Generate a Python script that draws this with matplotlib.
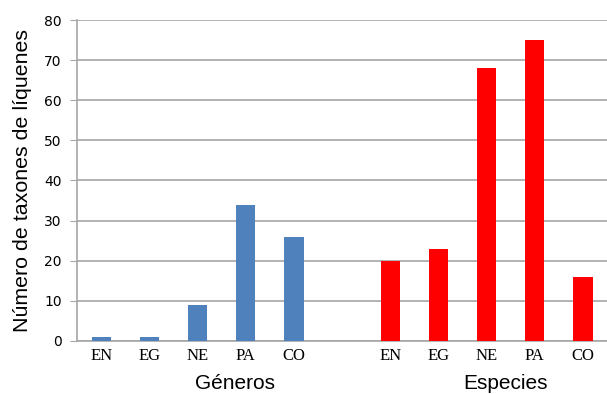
import matplotlib
matplotlib.use("Agg")
import matplotlib.pyplot as plt
import numpy as np

categorias = ['EN', 'EG', 'NE', 'PA', 'CO']
generos = [1, 1, 9, 34, 26]
especies = [20, 23, 68, 75, 16]
grupos = ['Géneros', 'Especies']

fig = plt.figure(figsize=(6.07, 3.94), dpi=100)
ax = fig.add_axes([0.127, 0.135, 0.873, 0.814])

x_gen = np.arange(len(categorias))
x_esp = x_gen + len(categorias) + 1
ax.bar(x_gen, generos, width=0.4, color='#4F81BD', zorder=3)
ax.bar(x_esp, especies, width=0.4, color='#FF0000', zorder=3)

ax.set_xlim(-0.5, x_esp[-1] + 0.5)
ax.set_ylim(0, 80)
ax.set_yticks(np.arange(0, 81, 10))
ax.yaxis.grid(True, color='#a6a6a6', linewidth=1.2, zorder=0)
ax.tick_params(axis='y', labelsize=10, length=5, color='#a6a6a6', pad=6)

ax.set_xticks(np.concatenate([x_gen, x_esp]))
ax.set_xticklabels(categorias * 2, fontfamily='Liberation Serif', fontsize=12)
ax.tick_params(axis='x', length=0, pad=5)

for s in ['top', 'right']:
    ax.spines[s].set_visible(False)
for s in ['left', 'bottom']:
    ax.spines[s].set_color('#a6a6a6')
    ax.spines[s].set_linewidth(1.2)

# posiciones de los títulos de grupo (como en el original, no centrados)
for xpos, nombre in zip([x_gen.mean() + 0.77, x_esp.mean() + 0.4], grupos):
    ax.text(xpos, -0.105, nombre, transform=ax.get_xaxis_transform(),
            ha='center', va='top', fontsize=15, fontfamily='Liberation Sans')

ax.set_ylabel('Número de taxones de líquenes', fontsize=15.4, fontfamily='Liberation Sans', labelpad=9)

fig.savefig('out.png', dpi=100)
